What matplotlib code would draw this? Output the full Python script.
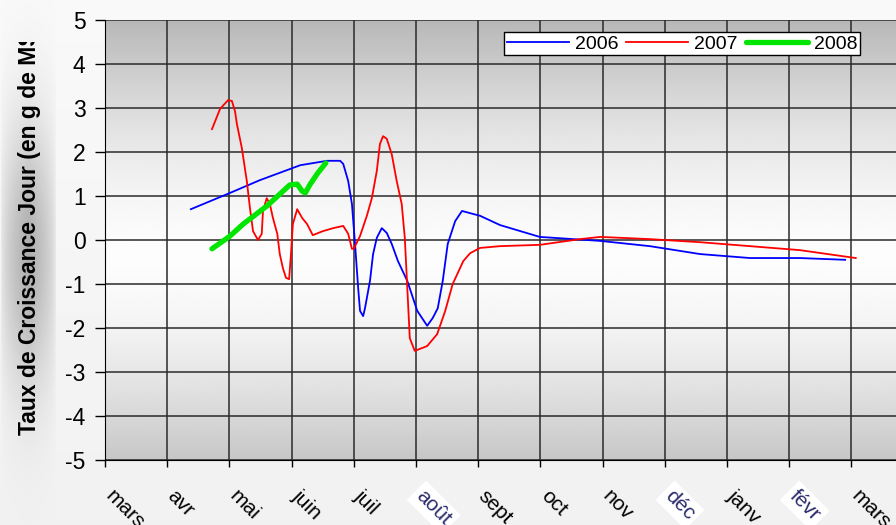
import numpy as np
import matplotlib
matplotlib.use("Agg")
import matplotlib.pyplot as plt
from matplotlib.transforms import Bbox, ScaledTranslation

plt.rcParams['font.family'] = ['Liberation Sans', 'DejaVu Sans']
plt.rcParams['axes.unicode_minus'] = False

# month labels (mars = 0 ... mars = 12)
months = ['mars', 'avr', 'mai', 'juin', 'juil', 'août', 'sept', 'oct',
          'nov', 'déc', 'janv', 'févr', 'mars']

# x in months since 1 March, y = growth rate
x2006 = [1.38, 2.01, 2.49, 3.14, 3.57, 3.78, 3.83, 3.91, 3.97, 4.02, 4.07, 4.10,
         4.15, 4.18, 4.26, 4.31, 4.37, 4.45, 4.53, 4.61, 4.71, 4.86, 5.02, 5.18,
         5.27, 5.35, 5.43, 5.51, 5.63, 5.74, 5.87, 6.03, 6.35, 6.99, 7.96, 8.76,
         9.57, 10.37, 11.17, 11.90]
y2006 = [0.70, 1.07, 1.36, 1.70, 1.80, 1.80, 1.73, 1.34, 0.82, -0.09, -1.09, -1.61,
         -1.73, -1.55, -0.93, -0.32, 0.05, 0.27, 0.16, -0.09, -0.48, -0.93, -1.61, -1.95,
         -1.77, -1.55, -0.93, -0.09, 0.43, 0.66, 0.61, 0.55, 0.34, 0.07, -0.02, -0.14,
         -0.32, -0.41, -0.41, -0.45]

x2007 = [1.72, 1.85, 1.98, 2.04, 2.09, 2.12, 2.20, 2.28, 2.33, 2.38, 2.46, 2.52,
         2.54, 2.60, 2.65, 2.70, 2.77, 2.81, 2.86, 2.91, 2.96, 2.99, 3.02, 3.09,
         3.17, 3.25, 3.34, 3.50, 3.67, 3.83, 3.91, 3.97, 4.00, 4.10, 4.21, 4.29,
         4.37, 4.42, 4.47, 4.53, 4.61, 4.69, 4.77, 4.82, 4.86, 4.90, 4.98, 5.18,
         5.34, 5.47, 5.59, 5.76, 5.87, 6.03, 6.35, 6.99, 7.64, 7.96, 8.76, 9.57,
         10.37, 11.17, 12.07]
y2007 = [2.52, 2.98, 3.18, 3.16, 2.93, 2.64, 2.09, 1.34, 0.73, 0.20, 0.00, 0.14,
         0.66, 0.95, 0.82, 0.50, 0.14, -0.32, -0.64, -0.86, -0.89, -0.32, 0.36, 0.70,
         0.50, 0.36, 0.11, 0.20, 0.27, 0.32, 0.14, -0.20, -0.20, 0.09, 0.55, 0.95,
         1.57, 2.18, 2.36, 2.30, 1.95, 1.34, 0.82, 0.05, -1.09, -2.23, -2.52, -2.41,
         -2.14, -1.61, -1.00, -0.48, -0.30, -0.18, -0.14, -0.11, 0.02, 0.07, 0.02, -0.05,
         -0.14, -0.23, -0.41]

x2008 = [1.72, 2.01, 2.22, 2.60, 2.97, 3.09, 3.17, 3.22, 3.30, 3.42, 3.55]
y2008 = [-0.20, 0.09, 0.36, 0.77, 1.25, 1.27, 1.11, 1.07, 1.27, 1.52, 1.75]

W, H = 896, 525
fig = plt.figure(figsize=(W / 100, H / 100), dpi=100)

# figure background with grey shading behind the y label
bg = fig.add_axes([0, 0, 1, 1], zorder=-10)
bg.set_axis_off()
xx = np.arange(W)[None, :]
yy = np.arange(H)[:, None]
gx = np.clip(1 - np.abs(xx - 28) / 28.0, 0, 1) ** 0.5
gy = np.exp(-((yy - 255) / 130.0) ** 2)
shade = 0.975 - 0.28 * gx * gy - 0.03 * (yy / H)
bg.imshow(np.clip(shade, 0, 1), cmap='gray', vmin=0, vmax=1,
          extent=[0, W, H, 0], aspect='auto', interpolation='bilinear')
bg.set_xlim(0, W)
bg.set_ylim(H, 0)

ax = fig.add_axes([105 / W, 65 / H, 13 * 62.2 / W, 440 / H])

# plot area gradient: grey at top and bottom, white around zero
yv = np.linspace(5, -5, 200)
grad = 0.99 - 0.24 * (np.abs(yv + 0.4) / 5.0) ** 1.6
ax.imshow(grad[:, None], cmap='gray', vmin=0, vmax=1, extent=[0, 13, -5, 5],
          aspect='auto', interpolation='bilinear', zorder=0)

ax.plot(x2006, y2006, color='#0000ff', lw=1.3, label='2006', zorder=3)
ax.plot(x2007, y2007, color='#ff0000', lw=1.3, label='2007', zorder=3)
ax.plot(x2008, y2008, color='#00e600', lw=3.8, label='2008', zorder=4,
        solid_capstyle='round')

ax.set_xlim(0, 13)
ax.set_ylim(-5, 5)
ax.set_yticks(range(-5, 6))
ax.tick_params(axis='y', labelsize=16.5, length=7, width=1, pad=7, direction='out')
ax.set_xticks(range(13))
ax.set_xticklabels(months, rotation=-45, ha='left', rotation_mode='anchor', fontsize=15)
ax.tick_params(axis='x', length=5, width=1, pad=14, direction='out')
for lab in ax.get_xticklabels():
    lab.set_transform(lab.get_transform() + ScaledTranslation(10 / 100, 0, fig.dpi_scale_trans))
    if lab.get_text() in ('août', 'déc', 'févr'):
        lab.set_color('#2b2b6b')
        lab.set_bbox(dict(facecolor='white', edgecolor='none', pad=3))

ax.grid(True, color='#2a2a2a', lw=1.1)
for side in ['top', 'right']:
    ax.spines[side].set_visible(False)
ax.spines['left'].set_color('black')
ax.spines['bottom'].set_color('black')

leg = ax.legend(loc='upper right', bbox_to_anchor=(860 / W, 1 - 32 / H),
                bbox_transform=fig.transFigure, ncol=3, fontsize=14, frameon=True,
                fancybox=False, framealpha=1, edgecolor='black', borderaxespad=0,
                handlelength=3.2, handletextpad=0.3, columnspacing=0.4,
                borderpad=0.15)
leg.get_frame().set_linewidth(1)

# y label, cut off at the top as in the original
ylab = fig.text(30 / W, 1 - 435 / H, 'Taux de Croissance Jour (en g de MS/jour)',
                rotation=90, ha='center', va='bottom', fontsize=16.5,
                fontweight='bold')
ylab.set_clip_box(Bbox.from_extents(0, 0, W, H - 42))
ylab.set_clip_on(True)

fig.savefig('out.png', dpi=100)
